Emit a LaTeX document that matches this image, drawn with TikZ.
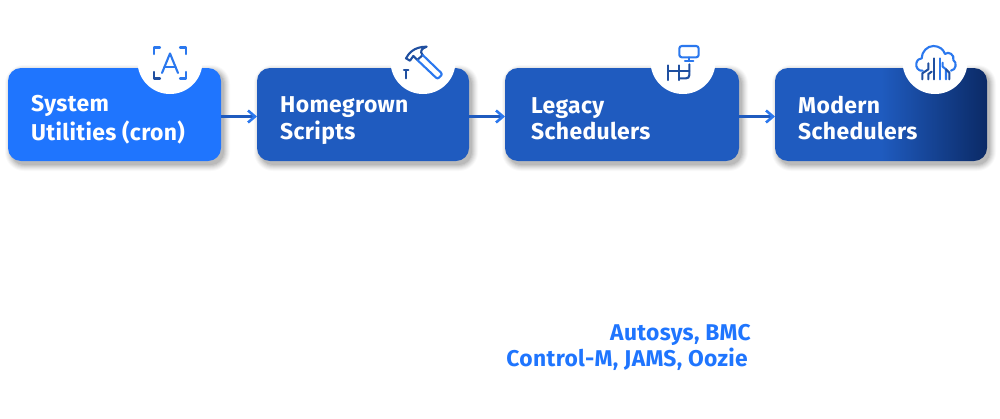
\documentclass[tikz,border=0pt]{standalone}
\usepackage{fontspec}
\setmainfont{Fira Sans}[BoldFont={Fira Sans Bold}]
\usetikzlibrary{arrows.meta}
\definecolor{bluea}{HTML}{1F75FE}
\definecolor{blueb}{HTML}{1F5BBF}
\definecolor{navy}{HTML}{0B2A66}
\definecolor{iconl}{HTML}{2B78EE}
\definecolor{icond}{HTML}{1F4FA0}
\tikzset{
  boxlabel/.style={text=white,font=\bfseries\fontsize{22.9}{26}\selectfont\addfontfeature{LetterSpace=1.5},align=left,anchor=west,inner sep=0pt},
  foot/.style={text=bluea,font=\bfseries\fontsize{22.8}{25}\selectfont\addfontfeature{LetterSpace=1.5},anchor=east,inner sep=0pt},
  link/.style={draw=blueb,line width=2.6pt,-{Straight Barb[length=7pt,width=12pt,line width=2.6pt,color=iconl]}},
  notch/.style={fill=white,draw=none},
  iconlight/.style={draw=iconl,line width=2.1pt,line cap=round,line join=round},
  icondark/.style={draw=icond,line width=2.1pt,line cap=round,line join=round},
  anchorpt/.style={inner sep=0pt,minimum size=0pt},
}
\newcommand{\softshadow}[4]{%
  \foreach \g/\o in {6/0.025,5/0.03,4/0.035,3/0.04,2/0.05,1/0.06,0/0.07}{
    \fill[black,opacity=\o,rounded corners={13pt+\g pt}]
      ({#1+3-\g},{#3+3-\g}) rectangle ({#2+3+\g},{#4+4+\g});
  }}
\newcommand{\twolines}[2]{\strut #1\\\strut #2}
\begin{document}
\begin{tikzpicture}[x=1pt,y=-1pt]
\useasboundingbox (0,0) rectangle (1000,418);
\softshadow{8}{221}{68}{161}
\softshadow{257}{469}{68}{161}
\softshadow{505}{739}{68}{161}
\softshadow{775}{987}{68}{161}
% boxes
\node[anchorpt] (c1) at (170,61.5) {};
\node[anchorpt] (c2) at (423,61.5) {};
\node[anchorpt] (c3) at (683,61.5) {};
\node[anchorpt] (c4) at (935,61.5) {};
\fill[bluea,rounded corners=13pt] (8,68) rectangle (221,161);
\fill[blueb,rounded corners=13pt] (257,68) rectangle (469,161);
\fill[blueb,rounded corners=13pt] (505,68) rectangle (739,161);
\begin{scope}
\clip[rounded corners=13pt] (775,68) rectangle (987,161);
\shade[shading=axis,shading angle=90,left color=blueb,right color=navy,middle color=blueb] (775,68) rectangle (987,161);
\end{scope}
\foreach \c in {c1,c2,c3,c4}{\fill[notch] (\c) circle[radius=32.5pt];}
% labels
\node[boxlabel] (t1) at (31,121) {\twolines{System}{Utilities (cron)}};
\node[boxlabel] (t2) at (280,121) {\twolines{Homegrown}{Scripts}};
\node[boxlabel] (t3) at (531,121) {\twolines{Legacy}{Schedulers}};
\node[boxlabel] (t4) at (798,121) {\twolines{Modern}{Schedulers}};
\node[foot] (f1) at (751,334.5) {Autosys, BMC};
\node[foot] (f2) at (748,359) {Control-M, JAMS, Oozie};
% connectors
\coordinate (a1) at (221,116.5); \coordinate (b1) at (257,116.5);
\coordinate (a2) at (469,116.5); \coordinate (b2) at (505,116.5);
\coordinate (a3) at (739,116.5); \coordinate (b3) at (775,116.5);
\draw[link] (a1) -- (b1);
\draw[link] (a2) -- (b2);
\draw[link] (a3) -- (b3);
% icon A
\draw[iconlight] (154,54) -- (154,47.5) -- (160,47.5);
\draw[iconlight] (180,47.5) -- (186,47.5) -- (186,54);
\draw[icondark] (154,72) -- (154,78.5) -- (160,78.5);
\draw[iconlight] (180,78.5) -- (186,78.5) -- (186,72);
\draw[iconlight] (162,73) -- (170,53.5) -- (178,73);
\draw[iconlight] (164.5,67) -- (175.5,67);
% icon hammer
\begin{scope}[shift={(380,30)},x=0.3333pt,y=-0.3333pt]
\draw[icondark] (78,85) .. controls (85,72) and (100,50) .. (140,50)
  .. controls (125,55) and (118,65) .. (128,75) -- (112,90) -- (100,78) -- (90,92) -- cycle;
\draw[iconlight] (128,75) -- (183,128) .. controls (186,132) and (186,134) .. (183,137)
  -- (177,143) .. controls (174,146) and (171,146) .. (168,143) -- (112,90);
\draw[icondark] (72,120) -- (85,120);
\draw[icondark] (78,120) -- (78,145);
\end{scope}
% icon network
\begin{scope}[shift={(640,30)},x=0.3333pt,y=-0.3333pt]
\draw[iconlight,rounded corners=2.5pt] (118,48) rectangle (176,82);
\draw[iconlight] (147,82) -- (147,92);
\draw[iconlight] (135,93) -- (160,93);
\draw[icondark] (148,103) -- (148,135) .. controls (148,142) and (144,145) .. (138,145) -- (118,145);
\draw[icondark] (85,106) -- (85,150);
\draw[icondark] (118,106) -- (118,150);
\draw[icondark] (85,122) -- (148,122);
\end{scope}
% icon cloud
\begin{scope}[shift={(890,30)},x=0.3333pt,y=-0.3333pt]
\draw[iconlight] (98,122) .. controls (85,125) and (76,110) .. (79,100)
  .. controls (81,90) and (88,85) .. (95,85)
  .. controls (95,65) and (112,48) .. (130,48)
  .. controls (148,48) and (160,58) .. (165,72)
  .. controls (175,62) and (195,75) .. (190,90)
  .. controls (202,98) and (198,120) .. (183,122);
\draw[icondark] (97,148) -- (97,130) -- (115,118) -- (115,100);
\draw[icondark] (115,148) -- (115,132) -- (125,125);
\draw[icondark] (133,148) -- (133,85);
\draw[iconlight] (150,148) -- (150,85);
\draw[iconlight] (168,148) -- (168,118) -- (158,110) -- (158,98);
\draw[icondark] (178,148) -- (178,128) -- (168,118);
\end{scope}
\end{tikzpicture}
\end{document}
